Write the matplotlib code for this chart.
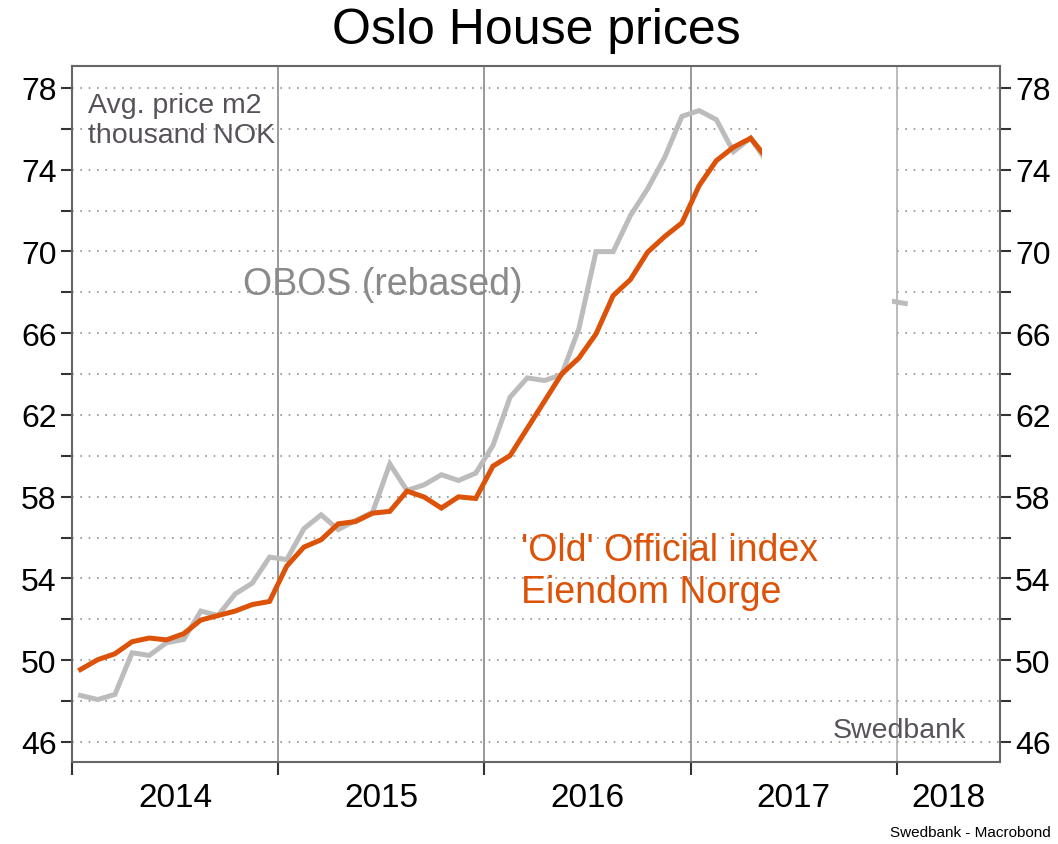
import numpy as np
import matplotlib
matplotlib.use("Agg")
import matplotlib.pyplot as plt
from matplotlib.ticker import FixedLocator, NullFormatter
from matplotlib.patches import Rectangle

plt.rcParams['font.family'] = ['Liberation Sans', 'DejaVu Sans']

# Monthly data, Jan 2014 onwards
start_year = 2014
official_index = [49.54, 50.02, 50.31, 50.90, 51.08, 50.99, 51.29, 51.96, 52.18, 52.40, 52.72, 52.87,
                  54.60, 55.53, 55.89, 56.67, 56.78, 57.19, 57.28, 58.27, 57.98, 57.44, 57.99, 57.91,
                  59.49, 60.01, 61.34, 62.67, 64.00, 64.78, 65.96, 67.84, 68.62, 69.96, 70.73, 71.40,
                  73.22, 74.44, 75.10, 75.54, 74.50]
obos_rebased = [48.27, 48.07, 48.32, 50.36, 50.23, 50.85, 51.01, 52.40, 52.18, 53.24, 53.77, 55.04,
                54.92, 56.43, 57.11, 56.39, 56.83, 57.24, 59.60, 58.30, 58.58, 59.07, 58.79, 59.15,
                60.50, 62.87, 63.81, 63.68, 63.97, 66.21, 69.99, 69.99, 71.75, 73.06, 74.61, 76.61,
                76.89, 76.45, 74.88, 75.55, 74.30, np.nan, np.nan, np.nan, np.nan, np.nan, np.nan,
                67.60, 67.45]
year_labels = ['2014', '2015', '2016', '2017', '2018']
year_label_pos = [2014.5, 2015.5, 2016.5, 2017.5, 2018.25]
y_labels = [46, 50, 54, 58, 62, 66, 70, 74, 78]

def month_x(n):
    return start_year + (np.arange(n) + 0.5) / 12.0

ORANGE = '#dc5208'
GRAY = '#bcbcbc'
TEXTGRAY = '#57525a'

fig = plt.figure(figsize=(10.58, 8.45), dpi=100)
ax = fig.add_axes([0.068, 0.0967, 0.877, 0.8237])
ax.set_xlim(2014.0, 2018.5)
ax.set_ylim(45.0, 79.06)

# grid
for yv in np.arange(46, 79, 2):
    ax.axhline(yv, color='#909090', lw=1.2, ls=(0, (1, 4)), zorder=1)
for yr in range(2015, 2019):
    ax.axvline(yr, color='#888888' if yr < 2018 else '#b0b0b0', lw=1.2, zorder=1)

ax.plot(month_x(len(obos_rebased)), obos_rebased, color=GRAY, lw=3.6, zorder=2,
        solid_joinstyle='miter')
ax.plot(month_x(len(official_index)), official_index, color=ORANGE, lw=3.6, zorder=3,
        solid_joinstyle='miter')

# blank panel covering part of the plot
ax.add_patch(Rectangle((2017.345, 63.0), 0.633, 14.5, facecolor='white', edgecolor='none', zorder=4))

for s in ax.spines.values():
    s.set_color('#666666')
    s.set_linewidth(1.5)

ax.yaxis.set_major_locator(FixedLocator(y_labels))
ax.yaxis.set_minor_locator(FixedLocator([v + 2 for v in y_labels[:-1]]))
ax.tick_params(axis='y', which='both', direction='out', length=8, width=1.5, color='#333333',
               left=True, right=True, labelleft=True, labelright=True, labelsize=23, pad=3)
ax.set_yticklabels([str(v) for v in y_labels])

ax.xaxis.set_major_locator(FixedLocator(range(2014, 2019)))
ax.xaxis.set_major_formatter(NullFormatter())
ax.xaxis.set_minor_locator(FixedLocator(year_label_pos))
ax.set_xticklabels(year_labels, minor=True)
ax.tick_params(axis='x', which='major', direction='out', length=9, width=1.5, color='#333333')
ax.tick_params(axis='x', which='minor', length=0, labelsize=24, pad=14)

ax.set_title('Oslo House prices', fontsize=36, pad=17)

ax.text(0.017, 0.963, 'Avg. price m2\nthousand NOK', transform=ax.transAxes, fontsize=20.5,
        color=TEXTGRAY, va='top', ha='left', linespacing=1.2, zorder=5)
ax.text(2014.83, 68.4, 'OBOS (rebased)', fontsize=27, color='#8a8a8a', va='center', ha='left', zorder=5)
ax.text(2016.18, 54.35, "'Old' Official index\nEiendom Norge", fontsize=27, color=ORANGE,
        va='center', ha='left', linespacing=1.2, zorder=5)
ax.text(0.964, 0.047, 'Swedbank', transform=ax.transAxes, fontsize=20.5, color=TEXTGRAY,
        ha='right', va='center', zorder=5)
fig.text(0.993, 0.014, 'Swedbank - Macrobond', fontsize=11, color='black', ha='right', va='center')

fig.savefig('out.png', dpi=100)
